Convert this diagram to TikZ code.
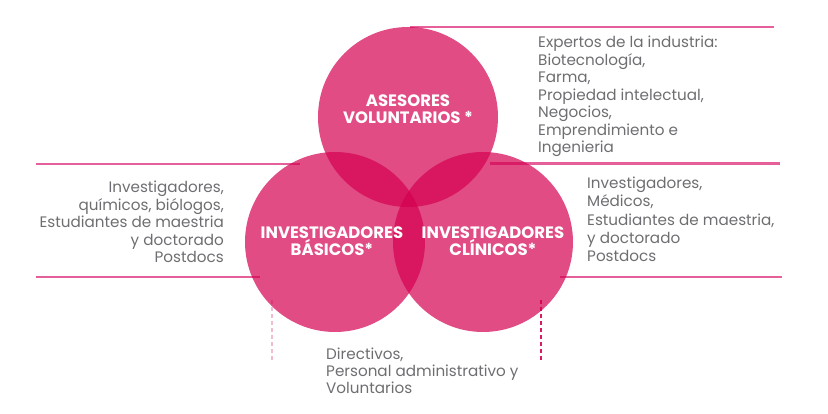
\documentclass[tikz,border=0pt]{standalone}
\usepackage{fontspec}
\setmainfont{Poppins}
\usetikzlibrary{positioning}
\definecolor{vnpink}{HTML}{D40050}
\definecolor{vnline}{HTML}{E5609A}
\definecolor{vngray}{HTML}{6D6E71}
\definecolor{vndash}{HTML}{F2BCD0}
\definecolor{vndark}{HTML}{D81B62}

\begin{document}
\begin{tikzpicture}[x=1pt,y=-1pt,
  rule/.style={draw=vnline,line width=2.2pt},
  circ/.style={circle,minimum size=180pt,inner sep=0,fill=vnpink,fill opacity=0.7},
  circtext/.style={font=\bfseries\fontsize{16.5}{17.5}\selectfont,text=white,align=center,inner sep=0},
  note/.style={font=\fontsize{15.2}{17.5}\selectfont,text=vngray,align=left,inner sep=0}]
\useasboundingbox (0,0) rectangle (828,414);
% horizontal rules behind the circles
\draw[rule] (410,27) -- (774,27);
\draw[rule] (490,163.5) -- (780,163.5);
\draw[rule] (36,164) -- (300,164);
\draw[rule] (36,277) -- (260,277);
\draw[rule] (560,277) -- (782,277);
\draw[vndash,line width=1.5pt,dash pattern=on 4pt off 3pt] (272,300) -- (272,360);
\draw[vndark,line width=1.5pt,dash pattern=on 4pt off 3pt] (541,300) -- (541,360);
% the three circles
\node[circ] (asesores) at (408,117) {};
\node[circ] (basicos) at (335,242) {};
\node[circ] (clinicos) at (483,242) {};
\node[circtext] (asesorestxt) at (408,109) {ASESORES\\VOLUNTARIOS *};
\node[circtext] (basicostxt) at (332,241) {INVESTIGADORES\\BÁSICOS*};
\node[circtext] (clinicostxt) at (493,241) {INVESTIGADORES\\CLÍNICOS*};
% descriptions
\node[note,anchor=north west] (expertos) at (538,36) {Expertos de la industria:\\Biotecnología,\\Farma,\\Propiedad intelectual,\\Negocios,\\Emprendimiento e\\Ingenieria};
\node[note,align=right,anchor=north east] (basicosnote) at (224,181) {Investigadores,\\químicos, biólogos,\\Estudiantes de maestria\\y doctorado\\Postdocs};
\node[note,anchor=north west,font=\fontsize{15.2}{18.2}\selectfont] (clinicosnote) at (587,177) {Investigadores,\\Médicos,\\Estudiantes de maestria,\\y doctorado\\Postdocs};
\node[note,anchor=north west,font=\fontsize{15.2}{17}\selectfont] (staff) at (326,348) {Directivos,\\Personal administrativo y\\Voluntarios};
\end{tikzpicture}
\end{document}
